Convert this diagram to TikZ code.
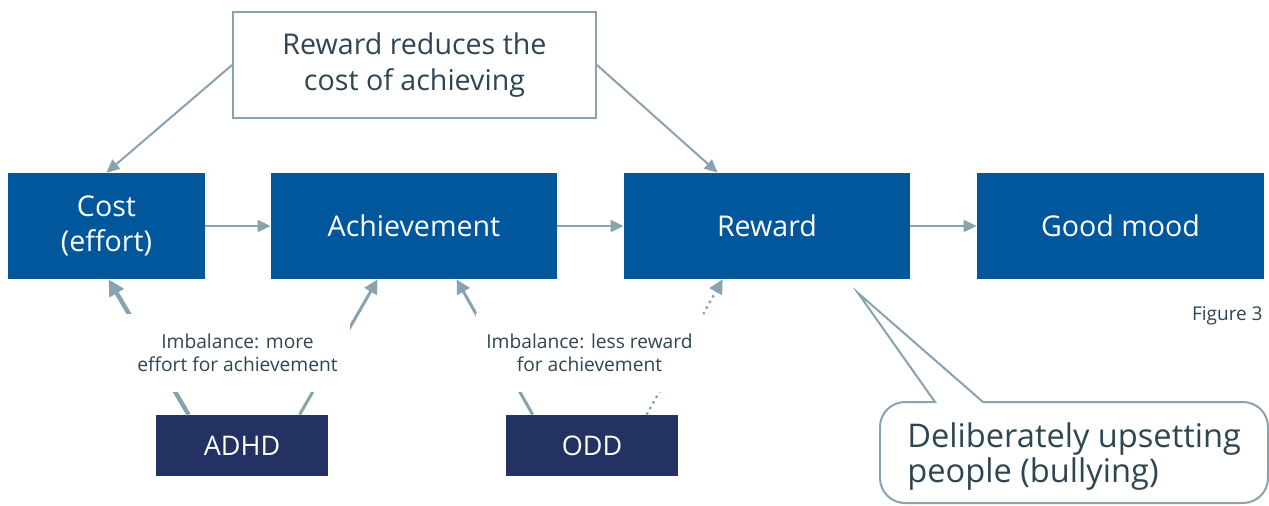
\documentclass[tikz,border=0pt]{standalone}
\usepackage{fontspec}
\setmainfont{Open Sans}
\usetikzlibrary{arrows.meta,calc}
\definecolor{boxblue}{RGB}{0,87,156}
\definecolor{navy}{RGB}{35,50,99}
\definecolor{linegray}{RGB}{137,162,176}
\definecolor{textdark}{RGB}{47,69,82}
\tikzset{
  mainbox/.style={fill=boxblue, text=white, minimum height=53pt, inner sep=0pt, align=center, font=\fontsize{14.3}{17.5}\selectfont},
  disbox/.style={fill=navy, text=white, minimum width=86pt, minimum height=30.5pt, inner sep=0pt, font=\fontsize{13.5}{16}\selectfont},
  notebox/.style={draw=linegray, line width=1pt, fill=white, text=textdark, align=center, inner sep=0pt, font=\fontsize{14.3}{18}\selectfont},
  lbl/.style={fill=white, text=textdark, align=center, inner sep=0pt, font=\fontsize{9.6}{11.5}\selectfont},
  conn/.style={draw=linegray, line width=1pt, -{Triangle[length=6.5pt,width=6pt]}, color=linegray},
}
\begin{document}
\begin{tikzpicture}[x=0.5pt,y=-0.5pt]
\useasboundingbox (0,0) rectangle (1269,505);
% main chain
\node[mainbox, minimum width=98.5pt] (cost) at (106.5,226) {Cost\\(effort)};
\node[mainbox, minimum width=143pt] (ach) at (414,226) {Achievement};
\node[mainbox, minimum width=143pt] (rew) at (767,226) {Reward};
\node[mainbox, minimum width=143.5pt] (good) at (1120.5,226) {Good mood};
% top note
\node[notebox, minimum width=181.5pt, minimum height=53pt] (top) at (414.5,65) {Reward reduces the\\cost of achieving};
% disorders
\node[disbox] (adhd) at (242,445.5) {ADHD};
\node[disbox] (odd) at (592,445.5) {ODD};
% horizontal arrows
\draw[conn] (cost.east) -- (ach.west);
\draw[conn] (ach.east) -- (rew.west);
\draw[conn] (rew.east) -- (good.west);
% top arrows
\draw[conn] (top.west) -- (cost.north);
\draw[conn] (top.east) -- ($(rew.north west)+(94,0)$);
% ADHD arrows
\draw[conn, line width=2.2pt, -{Triangle[length=8pt,width=8pt]}] ($(adhd.north west)+(33,0)$) -- ($(cost.south west)+(101,0)$);
\draw[conn, line width=1.5pt, -{Triangle[length=7pt,width=7pt]}] ($(adhd.north west)+(144,0)$) -- ($(ach.south west)+(107,0)$);
% ODD arrows
\draw[conn, line width=1.5pt, -{Triangle[length=7pt,width=7pt]}] ($(odd.north west)+(27,0)$) -- ($(ach.south west)+(186,0)$);
\draw[conn, line width=1.2pt, dotted, -{Triangle[length=7pt,width=7pt]}] ($(odd.north west)+(141,0)$) -- ($(rew.south west)+(99,0)$);
% labels (white background breaks the lines)
\node[lbl, minimum width=112.5pt, minimum height=39pt] (l1) at (237.5,353) {Imbalance: more\\effort for achievement};
\node[lbl, minimum width=113.5pt, minimum height=39.5pt] (l2) at (589.5,352.5) {Imbalance: less reward\\for achievement};
% callout
\coordinate (tip) at (858,293);
\draw[draw=linegray, line width=1pt, fill=white]
  (tip) -- (983,402) [rounded corners=12.5pt] -- (1268,402) -- (1268,503) -- (880,503) -- (880,402) [sharp corners] -- (935,402) -- cycle;
\node[anchor=west, text=textdark, align=left, inner sep=0pt, font=\fontsize{16.3}{17.5}\selectfont] (callout) at (907,457) {Deliberately upsetting\\people (bullying)};
% figure caption
\node[anchor=east, text=textdark, inner sep=0pt, font=\fontsize{9.5}{11}\selectfont] (fig) at (1263,316) {Figure 3};
\end{tikzpicture}
\end{document}
